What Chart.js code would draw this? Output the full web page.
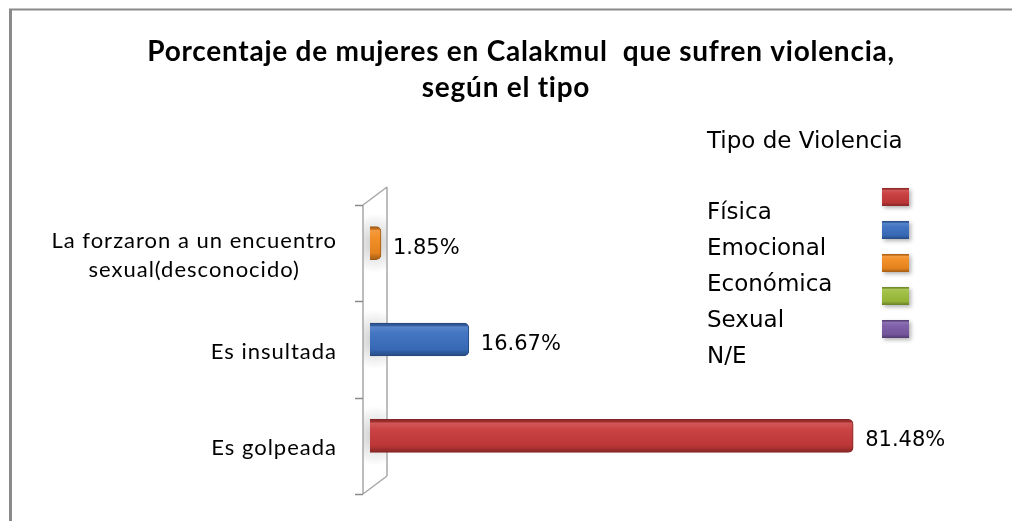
<!DOCTYPE html>
<html>
<head>
<meta charset="utf-8">
<script src="https://cdn.jsdelivr.net/npm/chart.js@4"></script>
<style>
  html, body { margin: 0; padding: 0; background: #fff; }
  #wrap { width: 1012px; height: 521px; }
</style>
</head>
<body>
<div id="wrap"><canvas id="chart" width="1012" height="521"></canvas></div>
<script>
// categories, top to bottom
const categories = [['La forzaron a un encuentro', 'sexual(desconocido)'], 'Es insultada', 'Es golpeada'];
const seriesNames = ['Física', 'Emocional', 'Económica', 'Sexual', 'N/E'];
const fisica = [null, null, 81.48];
const emocional = [null, 16.67, null];
const economica = [1.85, null, null];
const sexual = [null, null, null];
const noEspecifica = [null, null, null];
const seriesValues = [fisica, emocional, economica, sexual, noEspecifica];
const seriesColors = ['#c8393a', '#3a6fc0', '#f28a1f', '#9cbd3c', '#7a5aa5'];
const titleLines = ['Porcentaje de mujeres en Calakmul  que sufren violencia,', 'según el tipo'];
const legendTitle = 'Tipo de Violencia';

const DEPTH = 10;      // 3d offset of the bars
const BAR = 33;

function shade(hex, f) {
  const n = parseInt(hex.slice(1), 16);
  let c = [n >> 16, (n >> 8) & 255, n & 255];
  c = c.map(v => f < 0 ? v * (1 + f) : v + (255 - v) * f);
  return 'rgb(' + c.map(Math.round).join(',') + ')';
}

function barGradient(ctx, color, y0, y1) {
  const g = ctx.createLinearGradient(0, y0, 0, y1);
  g.addColorStop(0, shade(color, -0.3));
  g.addColorStop(0.07, shade(color, -0.2));
  g.addColorStop(0.12, shade(color, 0.15));
  g.addColorStop(0.3, shade(color, 0.05));
  g.addColorStop(0.8, shade(color, -0.06));
  g.addColorStop(0.9, shade(color, -0.2));
  g.addColorStop(1, shade(color, -0.32));
  return g;
}

const frame = {
  id: 'frame',
  beforeDraw(chart) {
    const ctx = chart.ctx;
    ctx.save();
    ctx.fillStyle = '#fff';
    ctx.fillRect(0, 0, chart.width, chart.height);
    ctx.strokeStyle = '#8a8a8a';
    ctx.lineWidth = 2;
    ctx.beginPath();
    ctx.moveTo(9, 9.5); ctx.lineTo(chart.width, 9.5);
    ctx.stroke();
    ctx.lineWidth = 3;
    ctx.beginPath();
    ctx.moveTo(10.5, 9); ctx.lineTo(10.5, chart.height);
    ctx.stroke();
    // title
    ctx.fillStyle = '#000';
    ctx.font = 'bold 28px Lato';
    ctx.letterSpacing = '0.75px';
    ctx.textAlign = 'center';
    ctx.textBaseline = 'middle';
    ctx.fillText(titleLines[0], 521, 52);
    ctx.fillText(titleLines[1], 506, 88);
    ctx.restore();
  }
};

const wall = {
  id: 'wall',
  beforeDatasetsDraw(chart) {
    const ctx = chart.ctx, a = chart.chartArea, ys = chart.scales.y;
    const fx = a.left - 7, bx = a.left + 17, dy = 18;
    ctx.save();
    // soft shadows of the bars on the wall
    categories.forEach((c, i) => {
      const cy = ys.getPixelForValue(i) - DEPTH;
      const g = ctx.createRadialGradient(fx + 12, cy, 2, fx + 12, cy, 30);
      g.addColorStop(0, 'rgba(0,0,0,0.18)');
      g.addColorStop(1, 'rgba(0,0,0,0)');
      ctx.fillStyle = g;
      ctx.fillRect(fx, cy - 32, bx - fx, 64);
    });
    ctx.strokeStyle = '#a8a8a8';
    ctx.lineWidth = 1.5;
    ctx.beginPath();
    ctx.moveTo(fx, a.top); ctx.lineTo(fx, a.bottom);
    ctx.moveTo(bx, a.top - dy); ctx.lineTo(bx, a.bottom - dy);
    ctx.moveTo(fx, a.top); ctx.lineTo(bx, a.top - dy);
    ctx.moveTo(fx, a.bottom); ctx.lineTo(bx, a.bottom - dy);
    ctx.stroke();
    ctx.strokeStyle = '#8a8a8a';
    ctx.beginPath();
    for (let i = 0; i <= categories.length; i++) {
      const y = Math.round(a.top + i * (a.bottom - a.top) / categories.length) + 0.5;
      ctx.moveTo(fx - 8, y); ctx.lineTo(fx, y);
    }
    ctx.stroke();
    ctx.restore();
  }
};

const depth = {
  id: 'depth',
  beforeDatasetsDraw(chart) {
    chart.ctx.save();
    chart.ctx.translate(0, -DEPTH);
  },
  afterDatasetsDraw(chart) {
    const ctx = chart.ctx;
    ctx.restore();
    ctx.save();
    ctx.font = '21px "DejaVu Sans"';
    ctx.fillStyle = '#000';
    ctx.textBaseline = 'middle';
    chart.data.datasets.forEach((ds, i) => {
      chart.getDatasetMeta(i).data.forEach((el, j) => {
        const v = ds.data[j];
        if (v === null || v === undefined) return;
        ctx.fillText(v.toFixed(2) + '%', el.x + 12, el.y - DEPTH + 5);
      });
    });
    ctx.restore();
  }
};

const catLabels = {
  id: 'catLabels',
  afterDraw(chart) {
    const ctx = chart.ctx, ys = chart.scales.y, right = chart.chartArea.left - 33;
    ctx.save();
    ctx.font = '22px Lato';
    ctx.letterSpacing = '1px';
    ctx.fillStyle = '#000';
    ctx.textAlign = 'center';
    ctx.textBaseline = 'middle';
    categories.forEach((c, i) => {
      const lines = Array.isArray(c) ? c : [c];
      const w = Math.max(...lines.map(l => ctx.measureText(l).width));
      const cx = right - w / 2;
      const y0 = ys.getPixelForValue(i) + 2 - (lines.length - 1) * 29 / 2;
      lines.forEach((l, k) => ctx.fillText(l, cx, y0 + k * 29));
    });
    ctx.restore();
  }
};

const sideLegend = {
  id: 'sideLegend',
  afterDraw(chart) {
    const ctx = chart.ctx;
    ctx.save();
    ctx.font = '23px "DejaVu Sans"';
    ctx.fillStyle = '#000';
    ctx.textBaseline = 'middle';
    ctx.fillText(legendTitle, 707, 142);
    chart.data.datasets.forEach((ds, i) => {
      ctx.fillStyle = '#000';
      ctx.fillText(ds.label, 707, 213 + i * 36);
      const my = 188 + i * 33;
      ctx.shadowColor = 'rgba(0,0,0,0.3)';
      ctx.shadowBlur = 4;
      ctx.shadowOffsetX = 2;
      ctx.shadowOffsetY = 2;
      ctx.fillStyle = barGradient(ctx, seriesColors[i], my, my + 18);
      ctx.fillRect(882, my, 27, 18);
      ctx.shadowColor = 'transparent';
    });
    ctx.restore();
  }
};

new Chart(document.getElementById('chart').getContext('2d'), {
  type: 'bar',
  data: {
    labels: categories,
    datasets: seriesNames.map((name, i) => ({
      label: name,
      data: seriesValues[i],
      barThickness: BAR,
      borderSkipped: 'start',
      borderWidth: 1,
      borderColor: shade(seriesColors[i], -0.35),
      borderRadius: { topLeft: 0, bottomLeft: 0, topRight: 5, bottomRight: 5 },
      backgroundColor: c => {
        const y = c.chart.scales.y;
        if (!y || y.top === undefined) return seriesColors[i];
        const py = y.getPixelForValue(c.dataIndex);
        return barGradient(c.chart.ctx, seriesColors[i], py - BAR / 2, py + BAR / 2);
      }
    }))
  },
  options: {
    indexAxis: 'y',
    responsive: false,
    animation: false,
    layout: { padding: { left: 370, right: 49, top: 205, bottom: 27 } },
    scales: {
      x: { display: false, stacked: true, min: 0, max: 100 },
      y: { display: false, stacked: true }
    },
    plugins: {
      legend: { display: false },
      tooltip: { enabled: false },
      title: { display: false }
    }
  },
  plugins: [frame, wall, depth, catLabels, sideLegend]
});
</script>
</body>
</html>
